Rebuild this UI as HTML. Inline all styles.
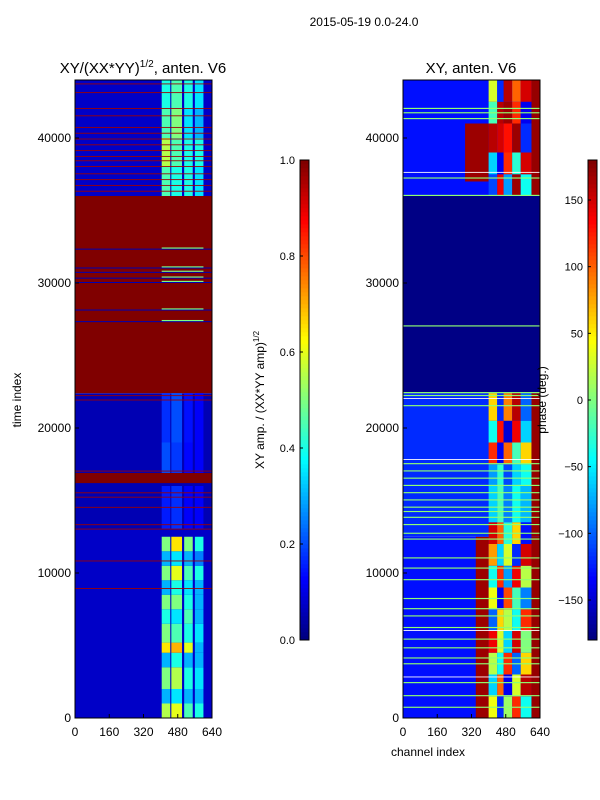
<!DOCTYPE html>
<html><head><meta charset="utf-8">
<style>
body{margin:0;background:#fff;}
svg{display:block;font-family:"Liberation Sans",sans-serif;}
</style></head>
<body>
<svg id="fig" width="600" height="800" viewBox="0 0 600 800">
<rect width="600" height="800" fill="#fff"/>
<text x="364" y="26" font-size="12" text-anchor="middle">2015-05-19 0.0-24.0</text>
<text x="143" y="73" font-size="15" text-anchor="middle">XY/(XX*YY)<tspan font-size="10" dy="-6">1/2</tspan><tspan dy="6">, anten. V6</tspan></text>
<text x="471" y="73" font-size="15" text-anchor="middle">XY, anten. V6</text>
<g id="left"></g>
<g id="right"></g>
<g id="axes"></g>
<text transform="translate(21,400) rotate(-90)" font-size="12" text-anchor="middle">time index</text>
<text x="428" y="756" font-size="12" text-anchor="middle">channel index</text>
<text transform="translate(264,400) rotate(-90)" font-size="12" text-anchor="middle">XY amp. / (XX*YY amp)<tspan font-size="8" dy="-5">1/2</tspan></text>
<text transform="translate(546,400) rotate(-90)" font-size="12" text-anchor="middle">phase (deg.)</text>
</svg>
<script>
// ---- data ----
const timeTicks = [0,10000,20000,30000,40000];
const chanTicks = [0,160,320,480,640];
const ampCbTicks = [0.0,0.2,0.4,0.6,0.8,1.0];
const phaseCbTicks = [-150,-100,-50,0,50,100,150];
const ampSegStart = [0,13000,22400,36000];
const ampSegEnd = [13000,22400,36000,44000];
const ampBg = [0.07,0.05,1.0,0.07];
const activeCols0 = [405,450,510,560];
const activeCols1 = [445,500,550,600];
const ampBlocks = [
 [0,1000,0.55,0.6,0.45,0.4],[1000,2000,0.3,0.35,0.3,0.3],[2000,3500,0.5,0.55,0.4,0.35],
 [3500,4500,0.3,0.4,0.3,0.3],[4500,5200,0.65,0.7,0.6,0.3],[5200,6500,0.5,0.45,0.4,0.35],
 [6500,7500,0.4,0.35,0.45,0.3],[7500,8500,0.5,0.5,0.4,0.3],[8500,9500,0.3,0.4,0.35,0.3],
 [9500,10500,0.5,0.6,0.45,0.4],[10500,11500,0.3,0.35,0.3,0.25],[11500,12500,0.5,0.65,0.5,0.4],
 [13000,16000,0.15,0.17,0.12,0.12],[16800,19000,0.2,0.18,0.13,0.12],[19000,22400,0.17,0.2,0.14,0.12],
 [36000,38000,0.45,0.4,0.4,0.35],[38000,40000,0.55,0.45,0.4,0.4],[40000,42000,0.45,0.5,0.35,0.3],[42000,44000,0.4,0.45,0.4,0.35]
];
const ampRedLines = [8900,10800,13000,13300,14500,15200,15500,17000,21900,22200,36300,36700,37100,37500,38000,38400,38700,39100,39500,39900,40300,40700,41500,42000,43100,43700];
const ampRedBands0 = [16200];
const ampRedBands1 = [16900];
const ampBlueLines = [27300,28100,30000,30300,30700,31000,32300];
const phSegStart = [0,12500,22400,36000];
const phSegEnd = [12500,22400,36000,44000];
const phBg = [-130,-120,-178,-130];
const phRedStart = [340,400,400,290];
const phBlocks = [
 [0,1500,40,-120,10,120,-40],[1500,3000,-60,100,-140,30,160],[3000,4500,20,-40,120,-100,60],
 [4500,6000,140,30,-60,150,0],[6000,7500,-100,60,20,-40,120],[7500,9000,40,-140,110,-20,-90],
 [9000,10500,-40,120,-80,140,20],[10500,12000,80,-60,30,-120,150],[12000,13500,150,100,-30,60,-130],
 [13500,16000,-60,-20,-90,-40,-70],[16000,17500,-80,-30,-110,-60,-40],[17500,19000,120,-140,100,-20,60],
 [19000,20500,-40,130,-150,140,-60],[20500,22400,60,-120,90,160,-100],
 [36000,37500,-110,140,-80,170,-40],[37500,39000,-60,-140,120,-30,150],[39000,41000,160,150,130,170,-120],[41000,42500,-20,160,170,120,-140],[42500,44000,30,-120,160,100,150]
];
const phCols0 = [400,440,470,510,550];
const phCols1 = [440,470,510,550,600];
const phGreenLines = [700,1500,2400,3700,4100,4800,5400,6200,7000,7500,8200,9500,10300,11000,12300,12700,13300,13800,14200,14500,15000,15500,16000,16500,17000,17500,21500,22200,22400,27000,36000,37200,41300,41700,42000];
const phWhiteLines = [2800,6000,17800,22000,37600];

const Y0=718, PXU=0.0145, TMAX=44000;
function ty(t){return Y0-t*PXU;}
function lx(c){return 75+c*137/640;}
function rx(c){return 403+c*137/640;}
function clip(v){return Math.max(0,Math.min(1,v));}
function jet(v){v=clip(v);const r=clip(1.5-Math.abs(4*v-3)),g=clip(1.5-Math.abs(4*v-2)),b=clip(1.5-Math.abs(4*v-1));return `rgb(${Math.round(r*255)},${Math.round(g*255)},${Math.round(b*255)})`;}
function pjet(p){return jet((p+180)/360);}
const NS="http://www.w3.org/2000/svg";
function rect(g,x0,x1,t0,t1,fill,name){const r=document.createElementNS(NS,'rect');
 const y1=ty(Math.min(t1,TMAX)),y0=ty(t0);
 r.setAttribute('x',x0);r.setAttribute('y',y1);r.setAttribute('width',Math.max(0.5,x1-x0));r.setAttribute('height',Math.max(0.8,y0-y1));r.setAttribute('fill',fill);
 
 
 g.appendChild(r);}
const L=document.getElementById('left'),R=document.getElementById('right');
ampSegStart.forEach((s,i)=>rect(L,lx(0),lx(640),s,ampSegEnd[i],jet(ampBg[i]),'amp-segment'));
ampBlocks.forEach(b=>{for(let k=0;k<4;k++)rect(L,lx(activeCols0[k]),lx(activeCols1[k]),b[0],b[1],jet(b[2+k]),'amp-cell');});
ampRedBands0.forEach((s,i)=>rect(L,lx(0),lx(640),s,ampRedBands1[i],jet(1),'amp-red-band'));
ampRedLines.forEach(t=>rect(L,lx(0),lx(640),t,t+60,jet(0.97),'amp-red-line'));
ampBlueLines.forEach(t=>{rect(L,lx(0),lx(640),t,t+70,jet(0.05),'amp-blue-line');rect(L,lx(405),lx(600),t+70,t+150,jet(0.5),'amp-active-line');});
phSegStart.forEach((s,i)=>{rect(R,rx(0),rx(640),s,phSegEnd[i],pjet(phBg[i]),'phase-segment');
 if(i!==2){if(i!==1)rect(R,rx(phRedStart[i]),rx(400),s+(i==3?1000:0),phSegEnd[i]-(i==3?3000:0),pjet(170),'phase-red-patch');rect(R,rx(600),rx(640),s,phSegEnd[i],pjet(172),'phase-edge');}});
phBlocks.forEach(b=>{for(let k=0;k<5;k++)rect(R,rx(phCols0[k]),rx(phCols1[k]),b[0],b[1],pjet(b[2+k]),'phase-cell');});
phGreenLines.forEach(t=>rect(R,rx(0),rx(640),t,t+80,pjet(5),'phase-green-line'));
phWhiteLines.forEach(t=>rect(R,rx(0),rx(640),t,t+60,'#fff','phase-white-line'));
const A=document.getElementById('axes');
function el(tag,attrs,name,txt){const e=document.createElementNS(NS,tag);for(const k in attrs)e.setAttribute(k,attrs[k]);
 
 
 if(txt!==undefined)e.textContent=txt;A.appendChild(e);return e;}
[[75,212],[403,540]].forEach(([a,b],pi)=>{
 el('rect',{x:a,y:80,width:b-a,height:638,fill:'none',stroke:'#000','stroke-width':1},'plot-frame');
 timeTicks.forEach(t=>{el('line',{x1:a,x2:a+4,y1:ty(t),y2:ty(t),stroke:'#000'},'y-tick');
  el('text',{x:a-4,y:ty(t)+4,'font-size':12,'text-anchor':'end'},'y-tick-label',t);});
 chanTicks.forEach(c=>{const x=a+c*137/640;el('line',{x1:x,x2:x,y1:718,y2:714,stroke:'#000'},'x-tick');
  el('text',{x:x,y:736,'font-size':12,'text-anchor':'middle'},'x-tick-label',c);});
});
function cbar(x,vals,lo,hi,fmt,name){
 for(let i=0;i<120;i++){const v=i/119;el('rect',{x:x,y:640-(i+1)*4,width:9,height:4.3,fill:jet(v)},name+'-swatch');}
 el('rect',{x:x,y:160,width:9,height:480,fill:'none',stroke:'#000'},name+'-frame');
 vals.forEach(v=>{const y=640-(v-lo)/(hi-lo)*480;el('text',{x:x-5,y:y+4,'font-size':11,'text-anchor':'end'},name+'-tick-label',fmt(v));
 el('line',{x1:x,x2:x+3,y1:y,y2:y,stroke:'#000'},name+'-tick');});
}
cbar(300,ampCbTicks,0,1,v=>v.toFixed(1),'amp-colorbar');
cbar(588,phaseCbTicks,-180,180,v=>v<0?'\u2212'+(-v):String(v),'phase-colorbar');
</script>
</body></html>
